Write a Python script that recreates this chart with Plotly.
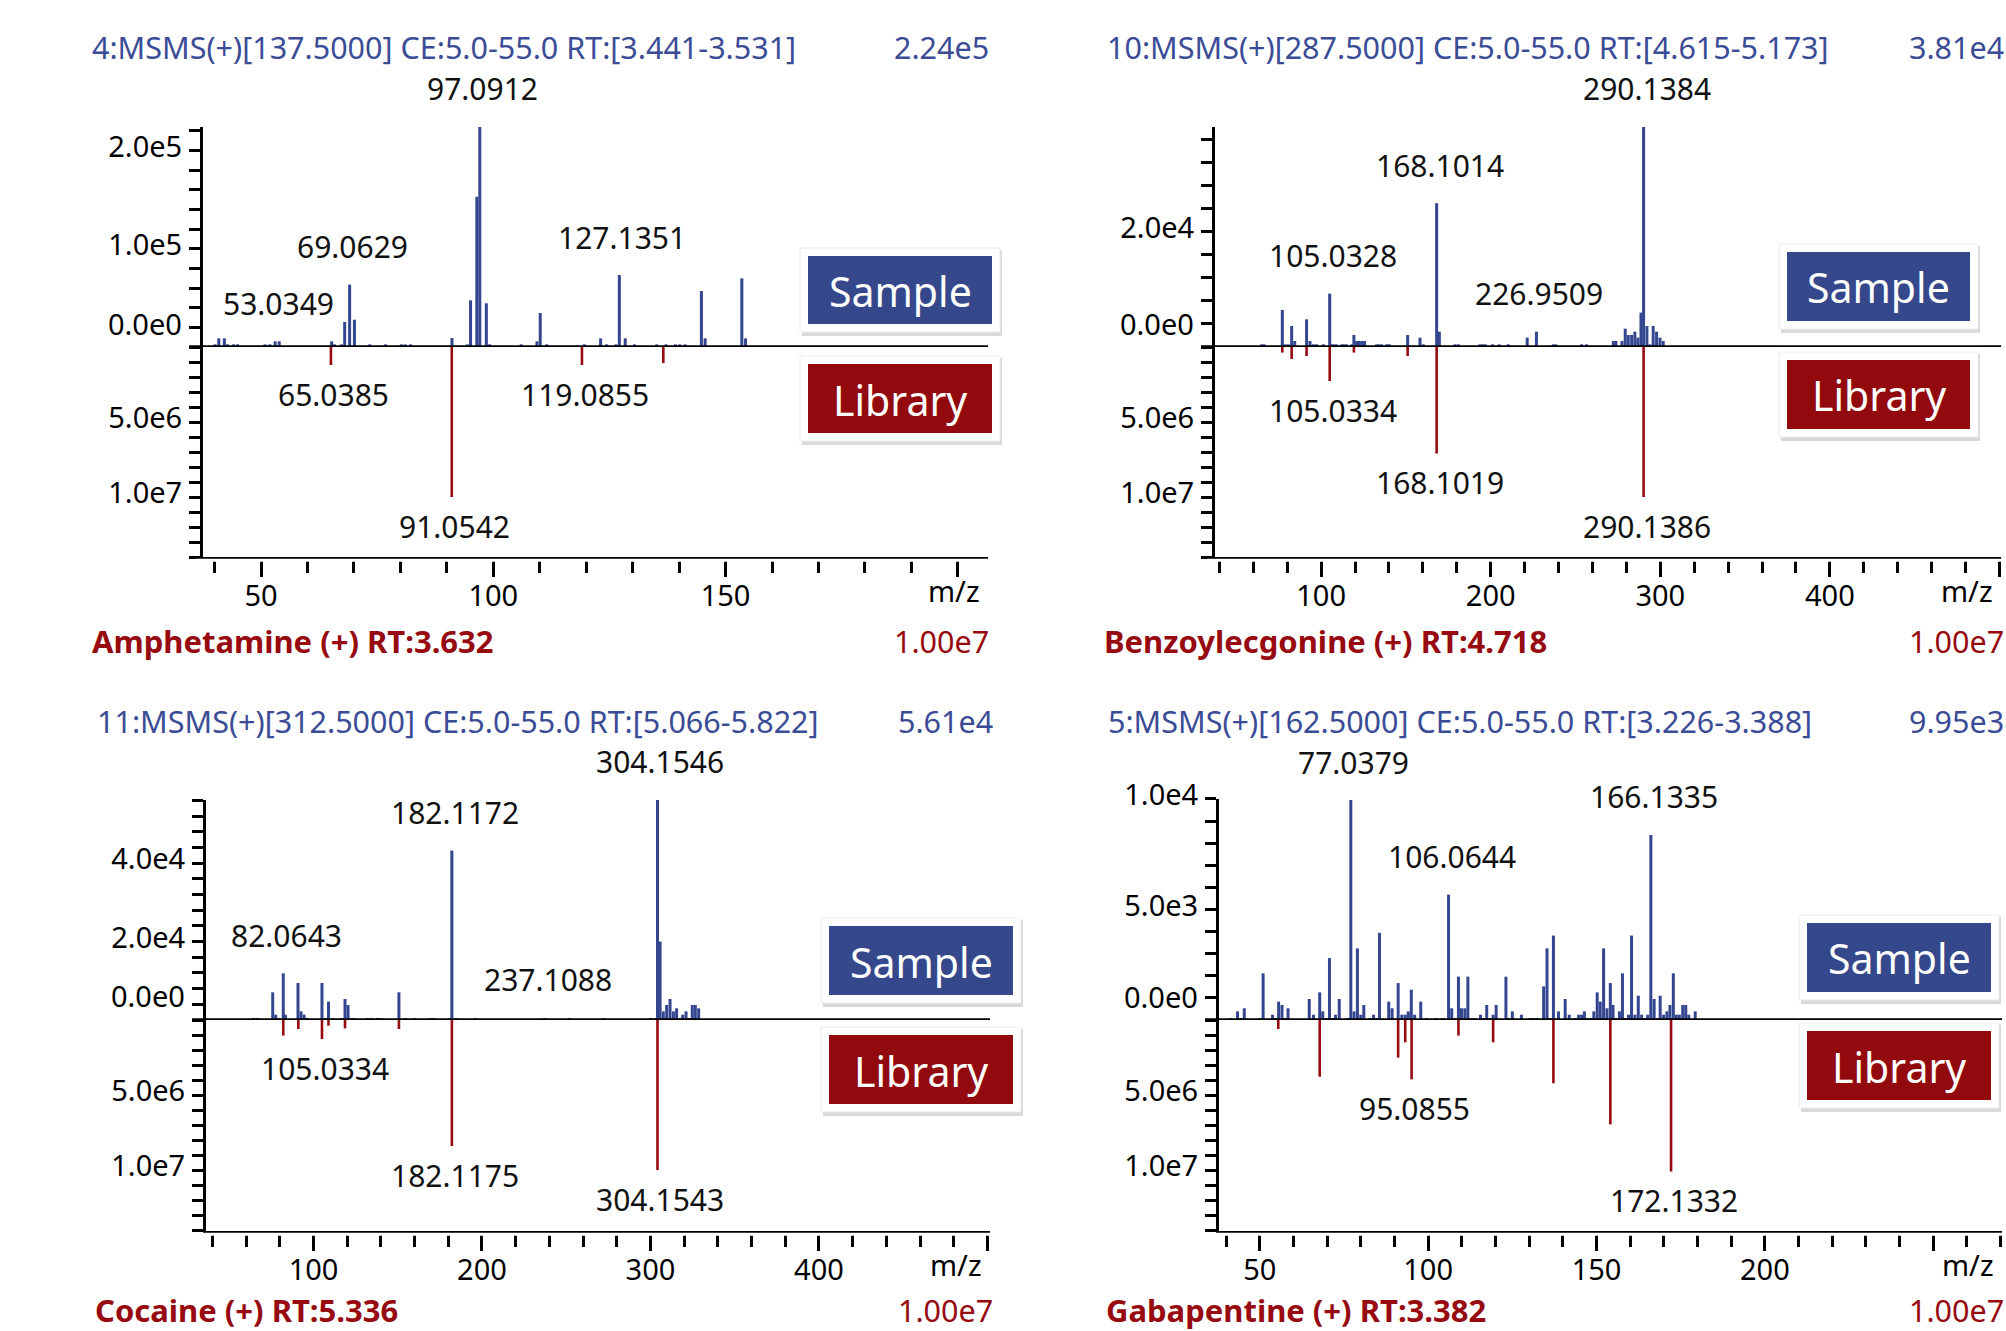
import plotly.graph_objects as go

# ---------------- data ----------------
HEADERS = ["4:MSMS(+)[137.5000] CE:5.0-55.0 RT:[3.441-3.531]",
           "10:MSMS(+)[287.5000] CE:5.0-55.0 RT:[4.615-5.173]",
           "11:MSMS(+)[312.5000] CE:5.0-55.0 RT:[5.066-5.822]",
           "5:MSMS(+)[162.5000] CE:5.0-55.0 RT:[3.226-3.388]"]
SAMPLE_MAX_TEXT = ["2.24e5", "3.81e4", "5.61e4", "9.95e3"]
SAMPLE_MAX = [2.24e5, 3.81e4, 5.61e4, 9.95e3]
COMPOUNDS = ["Amphetamine (+) RT:3.632", "Benzoylecgonine (+) RT:4.718",
             "Cocaine (+) RT:5.336", "Gabapentine (+) RT:3.382"]
LIB_MAX_TEXT = ["1.00e7", "1.00e7", "1.00e7", "1.00e7"]

# Amphetamine
TL_SAMPLE_MZ = [40.1, 40.9, 42.1, 42.8, 44.1, 44.95, 50.85, 51.9, 53.0349, 53.9,
                65.2, 65.8, 67.3, 68.0, 69.0629, 70.1, 73.4, 76.8, 80.2, 81.0, 82.2,
                91.1, 94.4, 95.1, 96.45, 97.0912, 98.5, 99.2, 106.0, 109.4, 110.1, 111.5,
                119.6, 123.1, 124.4, 126.4, 127.1351, 128.4, 130.4, 135.2, 137.2, 139.2,
                140.1, 141.3, 144.8, 145.6, 153.5, 154.3]
TL_SAMPLE_INT = [2700, 8800, 8800, 2700, 2700, 2700, 2700, 2700, 5800, 5800,
                 5800, 2700, 2700, 25500, 63500, 27800, 2700, 2700, 2700, 2700, 2700,
                 9200, 2700, 47500, 153000, 224000, 44500, 2700, 2700, 5800, 34600, 2700,
                 2700, 8800, 2700, 2700, 73300, 8800, 2700, 2700, 2700, 2700,
                 2700, 2700, 57000, 8800, 69900, 8800]
TL_LIB_MZ = [65.0385, 91.0542, 119.0855, 136.6]
TL_LIB_INT = [1.2e6, 1.0e7, 1.2e6, 1.07e6]
TL_SAMPLE_LABELS = [53.0349, 69.0629, 97.0912, 127.1351]
TL_LIB_LABELS = [65.0385, 91.0542, 119.0855]

# Benzoylecgonine
TR_SAMPLE_MZ = [64.9, 66.3, 77.1, 78.7, 80.6, 82.6, 84.4, 91.4, 93.4, 95.4, 97.3, 101.3,
                105.0328, 106.2, 107.5, 109.1, 112.1, 113.4, 115.0, 118.0, 119.3, 120.9,
                122.5, 124.1, 125.6, 132.7, 134.1, 135.7, 138.6, 140.2, 151.0, 158.3,
                160.2, 168.1014, 169.7, 178.9, 180.9, 193.6, 195.2, 196.8, 201.1, 205.0,
                210.3, 221.5, 226.9509, 236.9, 238.4, 253.6, 256.5, 272.3, 273.8, 277.4,
                279.3, 281.1, 283.1, 285.0, 286.8, 288.6, 290.1384, 292.1, 293.9, 295.8,
                297.8, 299.8, 301.7]
TR_SAMPLE_INT = [460, 460, 6410, 460, 460, 3640, 1040, 4790, 1040, 460, 460, 460,
                 9240, 460, 460, 460, 460, 460, 460, 460, 2080, 1040,
                 1040, 1040, 1040, 460, 460, 460, 460, 460, 2080, 1620,
                 460, 24900, 2660, 460, 460, 460, 460, 460, 460, 460,
                 460, 1620, 2660, 460, 460, 460, 460, 1040, 1040, 1040,
                 3180, 2080, 2080, 2660, 1620, 5950, 38100, 3640, 460, 3640,
                 2660, 1620, 1040]
TR_LIB_MZ = [77.1, 82.6, 91.4, 105.0334, 119.3, 151.0, 168.1019, 290.1386]
TR_LIB_INT = [3.7e5, 8.0e5, 6.0e5, 2.27e6, 3.7e5, 6.0e5, 7.1e6, 1.0e7]
TR_SAMPLE_LABELS = [105.0328, 168.1014, 226.9509, 290.1384]
TR_LIB_LABELS = [105.0334, 168.1019, 290.1386]

# Cocaine
BL_SAMPLE_MZ = [64.3, 66.7, 75.8, 77.6, 79.5, 82.0643, 83.3, 90.8, 92.6, 94.4, 96.3,
                105.03, 106.9, 108.9, 111.4, 116.7, 118.7, 120.5, 122.7, 124.6, 132.0,
                134.5, 137.9, 139.9, 150.7, 154.7, 160.2, 169.1, 171.5, 181.0, 182.1172,
                184.6, 195.9, 237.1088, 251.8, 272.0, 300.1, 302.7, 304.1546, 305.7,
                307.6, 309.6, 311.6, 313.6, 315.5, 317.5, 319.1, 321.1, 323.1, 324.8,
                326.6, 328.6]
BL_SAMPLE_INT = [510, 510, 7060, 1360, 510, 11900, 1360, 9440, 2210, 1360, 510,
                 9440, 510, 4680, 510, 510, 5360, 3830, 510, 510, 510,
                 510, 510, 510, 7060, 510, 510, 510, 510, 510, 43200,
                 510, 510, 510, 510, 510, 510, 510, 56100, 20000,
                 2210, 3830, 5360, 2210, 2980, 510, 1360, 2210, 510, 3830,
                 3830, 2980]
BL_LIB_MZ = [82.0643, 91.0, 105.0334, 108.9, 118.7, 150.7, 182.1175, 304.1543]
BL_LIB_INT = [1.04e6, 6.0e5, 1.27e6, 3.8e5, 5.6e5, 6.0e5, 8.4e6, 1.0e7]
BL_SAMPLE_LABELS = [82.0643, 182.1172, 237.1088, 304.1546]
BL_LIB_LABELS = [105.0334, 182.1175, 304.1543]

# Gabapentine
BR_SAMPLE_MZ = [41.5, 43.4, 44.3, 45.4, 50.0, 51.0, 53.8, 54.7, 55.6, 56.6, 57.5, 58.4,
                64.7, 65.95, 67.8, 68.7, 69.7, 70.7, 71.6, 72.5, 73.6, 76.1, 77.0379,
                78.0, 79.0, 80.0, 80.9, 82.8, 83.8, 84.8, 85.55, 88.3, 89.3, 91.1, 92.2,
                93.2, 94.1, 95.0, 96.0, 97.8, 99.6, 102.4, 104.4, 106.0644, 107.0, 108.0,
                109.0, 109.9, 110.9, 111.8, 112.8, 113.8, 115.55, 116.5, 117.4, 118.4,
                119.3, 120.2, 123.1, 124.0, 125.0, 127.7, 130.4, 131.4, 132.4, 134.3,
                135.3, 136.2, 137.2, 138.7, 140.7, 141.9, 143.7, 144.7, 145.6, 146.4,
                147.4, 148.4, 149.2, 150.2, 151.1, 152.1, 153.1, 154.1, 154.9, 155.9,
                156.8, 157.7, 158.5, 159.5, 160.4, 161.4, 162.4, 163.4, 164.3, 165.2,
                166.1335, 167.1, 168.0, 168.9, 169.9, 170.9, 171.8, 172.8, 173.7, 174.6,
                175.6, 176.5, 177.4, 179.3]
BR_SAMPLE_INT = [90, 390, 90, 530, 90, 2110, 240, 90, 830, 680, 90, 530,
                 950, 240, 1250, 390, 90, 2800, 90, 240, 950, 90, 9950,
                 390, 3240, 240, 680, 90, 240, 90, 3940, 830, 530, 1670, 240,
                 240, 390, 1370, 240, 830, 90, 90, 90, 5670, 530, 90,
                 1960, 530, 530, 1960, 90, 90, 240, 90, 680, 90,
                 240, 680, 1960, 90, 390, 240, 90, 90, 90, 1520,
                 3240, 90, 3820, 390, 950, 240, 90, 240, 240, 390,
                 90, 90, 390, 1250, 830, 3240, 530, 1670, 680, 90,
                 390, 2110, 90, 240, 3820, 240, 1100, 240, 90, 240,
                 8370, 950, 90, 1100, 240, 390, 680, 2110, 240, 240,
                 680, 680, 240, 390]
BR_LIB_MZ = [55.5, 67.8, 91.1, 93.2, 95.0855, 109.0, 119.3, 137.2, 154.1, 172.1332]
BR_LIB_INT = [6.0e5, 3.78e6, 2.51e6, 1.49e6, 3.96e6, 1.04e6, 1.49e6, 4.22e6, 6.96e6, 1.01e7]
BR_SAMPLE_LABELS = [77.0379, 106.0644, 166.1335]
BR_LIB_LABELS = [95.0855, 172.1332]

X_TICKVALS = [[50, 100, 150, 200], [100, 200, 300, 400, 500],
              [100, 200, 300, 400, 500], [50, 100, 150, 200, 250]]
X_TICKTEXT = [["50", "100", "150", ""], ["100", "200", "300", "400", ""],
              ["100", "200", "300", "400", ""], ["50", "100", "150", "200", ""]]
X_MINOR = [10, 20, 20, 10]
S_TICKVALS = [[1e5, 2e5], [2e4], [2e4, 4e4], [5e3, 1e4]]
S_TICKTEXT = [["1.0e5", "2.0e5"], ["2.0e4"], ["2.0e4", "4.0e4"], ["5.0e3", "1.0e4"]]
S_MINOR = [2e4, 4e3, 4e3, 1e3]
L_TICKVALS = [5e6, 1e7]
L_TICKTEXT = ["5.0e6", "1.0e7"]
L_MINOR = 1e6
ZERO_TEXT = "0.0e0"
XLABEL = "m/z"

DATA = [
    (TL_SAMPLE_MZ, TL_SAMPLE_INT, TL_LIB_MZ, TL_LIB_INT, TL_SAMPLE_LABELS, TL_LIB_LABELS),
    (TR_SAMPLE_MZ, TR_SAMPLE_INT, TR_LIB_MZ, TR_LIB_INT, TR_SAMPLE_LABELS, TR_LIB_LABELS),
    (BL_SAMPLE_MZ, BL_SAMPLE_INT, BL_LIB_MZ, BL_LIB_INT, BL_SAMPLE_LABELS, BL_LIB_LABELS),
    (BR_SAMPLE_MZ, BR_SAMPLE_INT, BR_LIB_MZ, BR_LIB_INT, BR_SAMPLE_LABELS, BR_LIB_LABELS),
]

# ---------------- geometry / style ----------------
W, H = 2006, 1331
FONT = "Noto Sans"
BLUE_TXT = "#3b4c96"
BLUE_BAR = "#34468f"
BLUE_BOX = "#36488c"
RED = "#960a10"
RED_BOX = "#920a0e"
TICK_FS = 29
PEAK_FS = 30
HEAD_FS = 30.5
FOOT_FS = 31
BADGE_FS = 41

# pixel geometry of each panel: left, right, top (= max sample value), baseline, bottom, x-range
GEOM = [
    dict(l=203, r=988, t=127, b0=347, b=557, xr=[37.5, 206.5]),
    dict(l=1215, r=2001, t=127, b0=347, b=557, xr=[37.4, 500.9]),
    dict(l=206, r=990, t=800, b0=1020, b=1231, xr=[36.2, 501.5]),
    dict(l=1219, r=2002, t=800, b0=1020, b=1231, xr=[37.9, 270.4]),
]
HEAD = [dict(y=47, xl=90, xr=991, fy=641, fxl=90, fxr=991),
        dict(y=47, xl=1105, xr=2006, fy=641, fxl=1102, fxr=2006),
        dict(y=721, xl=95, xr=995, fy=1310, fxl=93, fxr=995),
        dict(y=721, xl=1106, xr=2006, fy=1310, fxl=1104, fxr=2006)]
BOXES = [dict(x0=808, x1=992, sy0=256, sy1=324, ly0=364, ly1=433),
         dict(x0=1787, x1=1970, sy0=252, sy1=321, ly0=360, ly1=429),
         dict(x0=829, x1=1013, sy0=926, sy1=995, ly0=1035, ly1=1104),
         dict(x0=1807, x1=1991, sy0=923, sy1=992, ly0=1031, ly1=1100)]


def px(x):
    return x / W


def py(y):
    return 1 - y / H


def sfx(n):
    return "" if n == 1 else str(n)


fig = go.Figure()
layout = dict(width=W, height=H, margin=dict(l=0, r=0, t=0, b=0, pad=0, autoexpand=False),
              paper_bgcolor="white", plot_bgcolor="white", showlegend=False,
              barmode="overlay", font=dict(family=FONT, color="black", size=TICK_FS))
annotations = []
shapes = []

for k in range(4):
    g = GEOM[k]
    smz, sint, lmz, lint, slab, llab = DATA[k]
    xa, xb = 2 * k + 1, 2 * k + 2        # xa: bottom (library) x, xb: sample x
    ys, yl = 2 * k + 1, 2 * k + 2        # ys: sample y, yl: library y
    ppu = (g["r"] - g["l"]) / (g["xr"][1] - g["xr"][0])
    lib_range = (g["b"] - g["b0"]) / 150.0 * 1e7
    # sample axis: the panel top equals the max intensity; extend if a labelled tick lies above
    s_px_per = (g["b0"] - g["t"]) / SAMPLE_MAX[k]
    s_top_val = max(SAMPLE_MAX[k], max(S_TICKVALS[k]))
    s_top_px = g["b0"] - s_top_val * s_px_per

    fig.add_trace(go.Bar(x=smz, y=sint, width=3.0 / ppu,
                         marker=dict(color=BLUE_BAR, line=dict(width=0)),
                         xaxis="x" + sfx(xb), yaxis="y" + sfx(ys), hoverinfo="skip"))
    fig.add_trace(go.Bar(x=lmz, y=lint, width=2.6 / ppu,
                         marker=dict(color=RED, line=dict(width=0)),
                         xaxis="x" + sfx(xa), yaxis="y" + sfx(yl), hoverinfo="skip"))

    dom_x = [px(g["l"]), px(g["r"])]
    layout["xaxis" + sfx(xa)] = dict(
        domain=dom_x, anchor="y" + sfx(yl), range=g["xr"], showgrid=False, zeroline=False,
        showline=True, linewidth=3, linecolor="black", automargin=False,
        ticks="outside", ticklen=17, tickwidth=3, tickcolor="black",
        tickvals=X_TICKVALS[k], ticktext=X_TICKTEXT[k], tickfont=dict(size=TICK_FS),
        ticklabelstandoff=-6,
        minor=dict(dtick=X_MINOR[k], tick0=0, ticks="outside", ticklen=13,
                   tickwidth=3, tickcolor="black", showgrid=False))
    layout["xaxis" + sfx(xb)] = dict(domain=dom_x, anchor="y" + sfx(ys), range=g["xr"],
                                     visible=False, automargin=False)
    layout["yaxis" + sfx(ys)] = dict(
        domain=[py(g["b0"]), py(s_top_px)], anchor="x" + sfx(xb),
        range=[0, s_top_val], showgrid=False, zeroline=False, automargin=False,
        showline=True, linewidth=3, linecolor="black",
        ticks="outside", ticklen=11, tickwidth=3, tickcolor="black",
        tickvals=S_TICKVALS[k], ticktext=S_TICKTEXT[k], tickfont=dict(size=TICK_FS),
        ticklabelstandoff=1, ticklabelshift=-4,
        minor=dict(dtick=S_MINOR[k], tick0=0, ticks="outside", ticklen=11,
                   tickwidth=3, tickcolor="black", showgrid=False))
    layout["yaxis" + sfx(yl)] = dict(
        domain=[py(g["b"]), py(g["b0"])], anchor="x" + sfx(xa),
        range=[lib_range, 0], showgrid=False, zeroline=False, automargin=False,
        showline=True, linewidth=3, linecolor="black",
        ticks="outside", ticklen=11, tickwidth=3, tickcolor="black",
        tickvals=L_TICKVALS, ticktext=L_TICKTEXT, tickfont=dict(size=TICK_FS),
        ticklabelstandoff=1, ticklabelshift=4,
        minor=dict(dtick=L_MINOR, tick0=0, ticks="outside", ticklen=11,
                   tickwidth=3, tickcolor="black", showgrid=False))

    # small white gap between the x axis line and its tick marks
    shapes.append(dict(type="rect", xref="x" + sfx(xa) + " domain", yref="y" + sfx(yl) + " domain",
                       x0=-0.01, x1=1.01, ysizemode="pixel", yanchor=0, y0=-1.7, y1=-4.8,
                       fillcolor="white", line=dict(width=0), layer="above"))
    # thick baseline between sample and library, reaching a little left of the axis
    shapes.append(dict(type="line", xref="x" + sfx(xb) + " domain", yref="y" + sfx(ys),
                       x0=-14.0 / (g["r"] - g["l"]), x1=1, y0=0, y1=0,
                       line=dict(color="black", width=3.5)))

    # "0.0e0" label sits above the baseline
    annotations.append(dict(text=ZERO_TEXT, xref="x" + sfx(xb) + " domain", yref="y" + sfx(ys),
                            x=0, y=0, xanchor="right", yanchor="middle", xshift=-19, yshift=24,
                            showarrow=False, font=dict(size=TICK_FS)))
    # m/z label
    annotations.append(dict(text=XLABEL, xref="x" + sfx(xa) + " domain", yref="y" + sfx(yl) + " domain",
                            x=1, y=0, xanchor="right", yanchor="middle", xshift=-6, yshift=-33,
                            showarrow=False, font=dict(size=TICK_FS)))

    # peak labels
    smap = dict(zip(smz, sint))
    for m in slab:
        annotations.append(dict(text=f"{m:.4f}", x=m, y=smap[m], xref="x" + sfx(xb),
                                yref="y" + sfx(ys), xanchor="center", yanchor="middle",
                                xshift=3, yshift=38, showarrow=False,
                                font=dict(size=PEAK_FS, color="#111111")))
    lmap = dict(zip(lmz, lint))
    for m in llab:
        annotations.append(dict(text=f"{m:.4f}", x=m, y=lmap[m], xref="x" + sfx(xa),
                                yref="y" + sfx(yl), xanchor="center", yanchor="middle",
                                xshift=3, yshift=-29, showarrow=False,
                                font=dict(size=PEAK_FS, color="#111111")))

    # header / footer
    h = HEAD[k]
    annotations.append(dict(text=HEADERS[k], xref="paper", yref="paper", x=px(h["xl"]), y=py(h["y"]),
                            xanchor="left", yanchor="middle", showarrow=False,
                            font=dict(size=HEAD_FS, color=BLUE_TXT)))
    annotations.append(dict(text=SAMPLE_MAX_TEXT[k], xref="paper", yref="paper", x=px(h["xr"]),
                            y=py(h["y"]), xanchor="right", yanchor="middle", showarrow=False,
                            font=dict(size=HEAD_FS, color=BLUE_TXT)))
    annotations.append(dict(text="<b>" + COMPOUNDS[k] + "</b>", xref="paper", yref="paper",
                            x=px(h["fxl"]), y=py(h["fy"]), xanchor="left", yanchor="middle",
                            showarrow=False, font=dict(size=FOOT_FS, color=RED)))
    annotations.append(dict(text=LIB_MAX_TEXT[k], xref="paper", yref="paper", x=px(h["fxr"]),
                            y=py(h["fy"]), xanchor="right", yanchor="middle", showarrow=False,
                            font=dict(size=HEAD_FS, color=RED)))

    # Sample / Library badges
    b = BOXES[k]
    for (y0, y1, col, txt) in [(b["sy0"], b["sy1"], BLUE_BOX, "Sample"),
                               (b["ly0"], b["ly1"], RED_BOX, "Library")]:
        shapes.append(dict(type="rect", xref="paper", yref="paper", layer="above",
                           x0=px(b["x0"] - 6), x1=px(b["x1"] + 10),
                           y0=py(y1 + 12), y1=py(y0 - 6),
                           fillcolor="#d9d9d9", line=dict(width=0)))
        shapes.append(dict(type="rect", xref="paper", yref="paper", layer="above",
                           x0=px(b["x0"] - 8), x1=px(b["x1"] + 8),
                           y0=py(y1 + 8), y1=py(y0 - 8),
                           fillcolor="white", line=dict(width=1, color="#ececec")))
        shapes.append(dict(type="rect", xref="paper", yref="paper", layer="above",
                           x0=px(b["x0"]), x1=px(b["x1"]), y0=py(y1), y1=py(y0),
                           fillcolor=col, line=dict(width=0)))
        annotations.append(dict(text=txt, xref="paper", yref="paper",
                                x=px((b["x0"] + b["x1"]) / 2), y=py((y0 + y1) / 2 + 1),
                                xanchor="center", yanchor="middle", showarrow=False,
                                font=dict(size=BADGE_FS, color="white")))

layout["annotations"] = annotations
layout["shapes"] = shapes
fig.update_layout(**layout)
fig.write_html("out.html", config={"displayModeBar": False},
               post_script="document.body.style.margin='0px';document.body.style.padding='0px';")
